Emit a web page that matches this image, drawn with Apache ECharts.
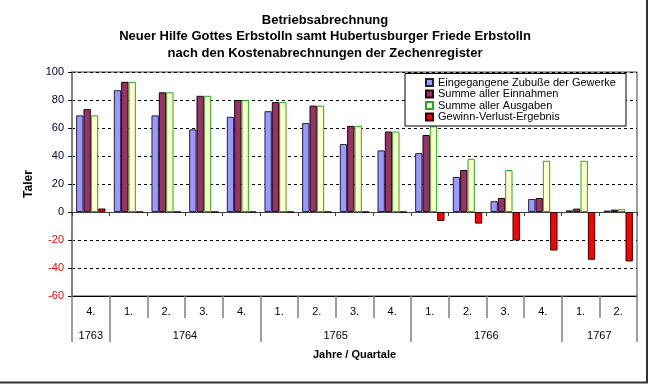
<!DOCTYPE html>
<html><head><meta charset="utf-8">
<script src="https://cdn.jsdelivr.net/npm/echarts@6/dist/echarts.min.js"></script>
<style>html,body{margin:0;padding:0;background:#fff}#c{width:650px;height:385px}</style>
</head><body><div id="c"></div>
<script>
const titleLines = ['Betriebsabrechnung', 'Neuer Hilfe Gottes Erbstolln samt Hubertusburger Friede Erbstolln', 'nach den Kostenabrechnungen der Zechenregister'];
const quarters = ['4.', '1.', '2.', '3.', '4.', '1.', '2.', '3.', '4.', '1.', '2.', '3.', '4.', '1.', '2.'];
const years = ['1763', '1764', '1765', '1766', '1767'];
const yearSpans = [1, 4, 4, 4, 2];
const seriesNames = ['Eingegangene Zubuße der Gewerke', 'Summe aller Einnahmen', 'Summe aller Ausgaben', 'Gewinn-Verlust-Ergebnis'];
const zubusse   = [69, 87, 69, 59, 68, 72, 63.5, 48.5, 44, 42, 25, 7.7, 9.3, 1.2, 1];
const einnahmen = [73.5, 93, 85.5, 83, 80, 78.5, 76, 61.5, 57.5, 55, 30, 10, 10, 2.4, 1.7];
const ausgaben  = [69, 93, 85.5, 83, 80, 78.5, 76, 61.5, 57.5, 61.2, 38, 30, 36.6, 36.6, 2];
const ergebnis  = [2.5, 0, 0, 0, 0, 0, 0, 0, 0, -6.4, -8.3, -20.3, -27.5, -34.1, -35.3];
const yMin = -60, yMax = 100, yStep = 20;
const yAxisName = 'Taler';
const xAxisName = 'Jahre / Quartale';

const FONT = "'Liberation Sans', Arial, sans-serif";
const yearBounds = [0];
yearSpans.forEach(s => yearBounds.push(yearBounds[yearBounds.length - 1] + s));
const yearCenters = years.map((y, i) => (yearBounds[i] + yearBounds[i + 1]) / 2);

const colors = ['#9999FF', '#993366', '#FFFFCC', '#FF0000'];
const borders = ['#202040', '#200010', '#22AA22', '#300000'];
const values = [zubusse, einnahmen, ausgaben, ergebnis];

const chart = echarts.init(document.getElementById('c'), null, {renderer: 'canvas'});
chart.setOption({
  animation: false,
  backgroundColor: '#fff',
  textStyle: {fontFamily: FONT},
  title: {
    text: titleLines.join('\n'),
    left: 'center', top: 7,
    textStyle: {fontFamily: FONT, fontSize: 13, fontWeight: 'bold', color: '#000', lineHeight: 16.5}
  },
  grid: {left: 72, right: 13, top: 72, bottom: 89, show: true, borderColor: '#404040', borderWidth: 1, backgroundColor: 'transparent'},
  legend: {
    orient: 'vertical', left: 420, top: 72,
    icon: 'rect',
    itemWidth: 7, itemHeight: 7, itemGap: 0.5,
    textStyle: {fontFamily: FONT, fontSize: 11, color: '#000', lineHeight: 10.3},
    data: seriesNames, z: 5
  },
  graphic: [
    {type: 'rect', shape: {x: 405, y: 73.5, width: 221, height: 52.5}, style: {fill: '#fff', stroke: '#000', lineWidth: 1}, z: 3},
    {type: 'line', shape: {x1: 647, y1: 0, x2: 647, y2: 383}, style: {stroke: '#333', lineWidth: 2}, z: 10},
    {type: 'line', shape: {x1: 0, y1: 382.5, x2: 648, y2: 382.5}, style: {stroke: '#333', lineWidth: 2}, z: 10}
  ],
  xAxis: [
    {
      type: 'category', data: quarters, position: 'bottom',
      axisLine: {onZero: true, lineStyle: {color: '#404040', width: 1}},
      axisTick: {show: true, interval: 0, length: 4, lineStyle: {color: '#404040'}},
      axisLabel: {show: false}, splitLine: {show: false}
    },
    {
      type: 'category', data: quarters, position: 'bottom',
      axisLine: {onZero: false, lineStyle: {color: '#000', width: 1}},
      axisTick: {show: true, interval: 0, length: 22, lineStyle: {color: '#808080', width: 1.5}},
      axisLabel: {interval: 0, margin: 10, fontSize: 11, color: '#000', fontFamily: FONT},
      splitLine: {show: false}
    },
    {
      type: 'value', min: 0, max: yearBounds[yearBounds.length - 1], position: 'bottom',
      axisLine: {show: false, onZero: false},
      axisTick: {show: true, customValues: yearBounds, length: 46, lineStyle: {color: '#808080', width: 1.5}},
      axisLabel: {
        customValues: yearCenters, margin: 34, fontSize: 11, color: '#000', fontFamily: FONT,
        formatter: v => { const i = yearCenters.indexOf(v); return i >= 0 ? years[i] : ''; }
      },
      splitLine: {show: false},
      name: xAxisName, nameLocation: 'middle', nameGap: 53,
      nameTextStyle: {fontFamily: FONT, fontSize: 11, fontWeight: 'bold', color: '#000'}
    }
  ],
  yAxis: {
    type: 'value', min: yMin, max: yMax, interval: yStep,
    axisLine: {show: true, onZero: false, lineStyle: {color: '#808080', width: 2}},
    axisTick: {show: true, length: 4, lineStyle: {color: '#000'}},
    axisLabel: {fontSize: 11, fontFamily: FONT, margin: 8, color: v => (Number(v) < 0 ? '#FF0000' : '#000033')},
    splitLine: {show: true, lineStyle: {color: '#000', type: [3, 3], width: 1}},
    name: yAxisName, nameLocation: 'middle', nameRotate: 90, nameGap: 34,
    nameTextStyle: {fontFamily: FONT, fontSize: 12, fontWeight: 'bold', color: '#000'}
  },
  series: seriesNames.map((n, i) => ({
    name: n, type: 'bar', xAxisIndex: 0, data: values[i],
    barGap: '0%', barCategoryGap: '22%',
    itemStyle: {color: colors[i], borderColor: borders[i], borderWidth: 1},
    z: 2
  }))
});
</script></body></html>
